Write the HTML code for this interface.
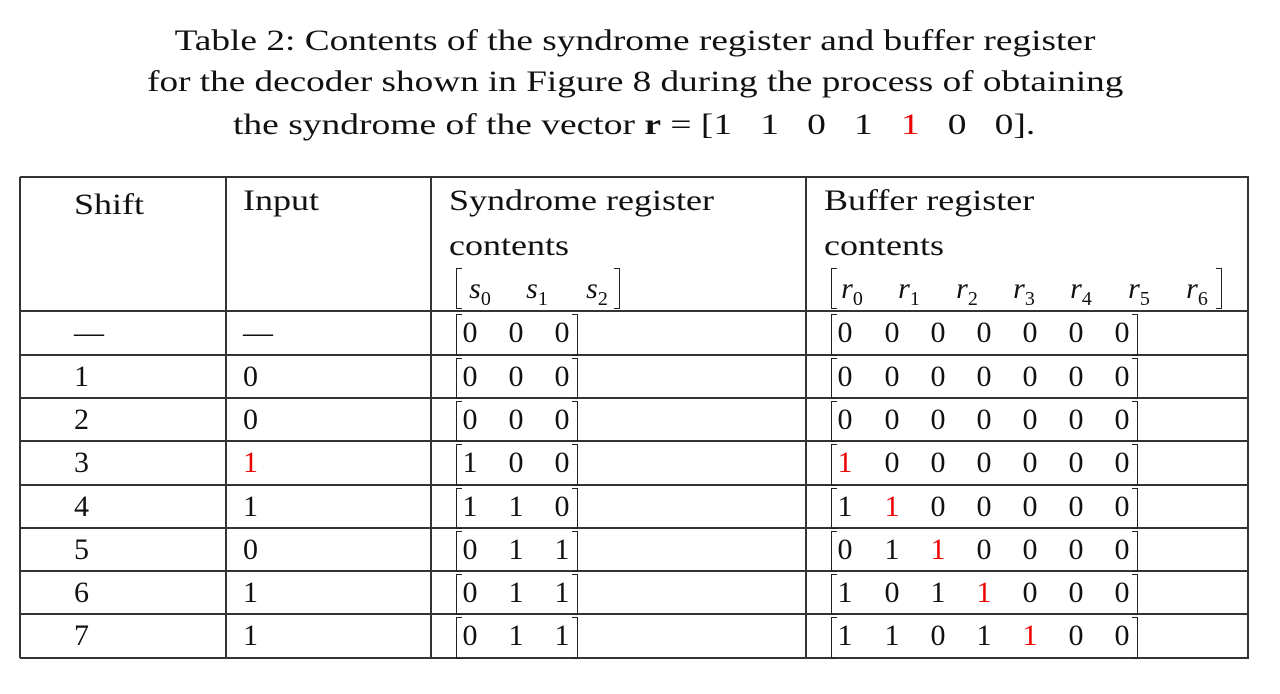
<!DOCTYPE html>
<html><head><meta charset="utf-8"><style>
body{margin:0;width:1280px;height:694px;background:#fff;position:relative;overflow:hidden;font-family:"Liberation Serif",serif;color:#111}
.t{position:absolute;white-space:nowrap;font-size:30px;line-height:30px}
.w{transform:scaleX(1.2);transform-origin:0 0}
.c{position:absolute;text-align:center;width:30px;margin-left:-15px;font-size:30px;line-height:30px}
.hl{position:absolute;height:1.5px;background:#333}
.vl{position:absolute;width:1.5px;background:#333}
.bl,.br{position:absolute;border:1.5px solid #222;width:5px}
.bl{border-right:none}.br{border-left:none}
.red{color:#e00}
</style></head><body>
<div class="t" style="left:0;width:1270px;text-align:center;top:26px;transform:scaleX(1.245);transform-origin:635px 0">Table 2: Contents of the syndrome register and buffer register</div>
<div class="t" style="left:0;width:1270px;text-align:center;top:67px;transform:scaleX(1.24);transform-origin:634px 0">for the decoder shown in Figure 8 during the process of obtaining</div>
<div class="t" style="left:233px;top:110px;transform:scaleX(1.25);transform-origin:0 0">the syndrome of the vector <b>r</b> = [1&nbsp;&nbsp; 1&nbsp;&nbsp; 0&nbsp;&nbsp; 1&nbsp;&nbsp; <span class="red">1</span>&nbsp;&nbsp; 0&nbsp;&nbsp; 0].</div>
<div id="tb"></div>
<script>
const shifts=["—","1","2","3","4","5","6","7"];
const inputs=["—","0","0","1","1","0","1","1"];
const syn=["000","000","000","100","110","011","011","011"];
const buf=["0000000","0000000","0000000","1000000","1100000","0110000","1011000","1101100"];
const redBuf=[-1,-1,-1,0,1,2,3,4];
const redIn=[false,false,false,true,false,false,false,false];
const tb=document.getElementById('tb');
function add(cls,style,txt,name){const d=document.createElement('div');d.className=cls;d.style.cssText=style;if(txt!=null)d.innerHTML=txt;


tb.appendChild(d);return d;}
const rowY=[177,311,355,398,441,485,528,571,614,658];
const colX=[20,226,431,806,1248];
rowY.forEach((y,i)=>add('hl',`left:20px;width:1229px;top:${y-0.75}px`,null,'row-line'));
colX.forEach(x=>add('vl',`left:${x-0.75}px;top:177px;height:481px`,null,'col-line'));
add('t w','left:74px;top:190px','Shift','shift-header');
add('t w','left:243px;top:186px','Input','input-header');
add('t w','left:449px;top:186px','Syndrome register','syndrome-header');
add('t w','left:449px;top:231px','contents','syndrome-header-2');
add('t w','left:824px;top:186px','Buffer register','buffer-header');
add('t w','left:824px;top:231px','contents','buffer-header-2');
function br(l,r,y1,y2,n){add('bl',`left:${l}px;top:${y1}px;height:${y2-y1}px`,null,n+'-bracket-left');add('br',`left:${r-6}px;top:${y1}px;height:${y2-y1}px`,null,n+'-bracket-right');}
br(456,620,268,307,'syndrome-label');br(831,1222,268,307,'buffer-label');
const sx=[480,537,597];['s<sub style="font-size:20px;font-style:normal">0</sub>','s<sub style="font-size:20px;font-style:normal">1</sub>','s<sub style="font-size:20px;font-style:normal">2</sub>'].forEach((s,i)=>add('c',`left:${sx[i]}px;top:274px;font-style:italic`,s,'syndrome-label-'+i));
const rx=[852,909,967,1024,1081,1139,1197];
rx.forEach((x,i)=>add('c',`left:${x}px;top:274px;font-style:italic`,`r<sub style="font-size:20px;font-style:normal">${i}</sub>`,'buffer-label-'+i));
const scx=[470,516,562],bcx=[845,892,938,984,1030,1076,1122];
for(let i=0;i<8;i++){const y0=rowY[i+1],y1=rowY[i+2],ty=(y0+y1)/2-15;
add('t',`left:74px;top:${ty}px`,shifts[i],'shift-cell');
add('t',`left:243px;top:${ty}px`,inputs[i],'input-cell').className='t'+(redIn[i]?' red':'');
br(456,578,y0+3,y1-1,'syndrome-row');br(831,1138,y0+3,y1-1,'buffer-row');
syn[i].split('').forEach((v,j)=>add('c',`left:${scx[j]}px;top:${ty}px`,v,'syndrome-bit'));
buf[i].split('').forEach((v,j)=>add('c'+(redBuf[i]===j?' red':''),`left:${bcx[j]}px;top:${ty}px`,v,'buffer-bit'));}
</script>
</body></html>
